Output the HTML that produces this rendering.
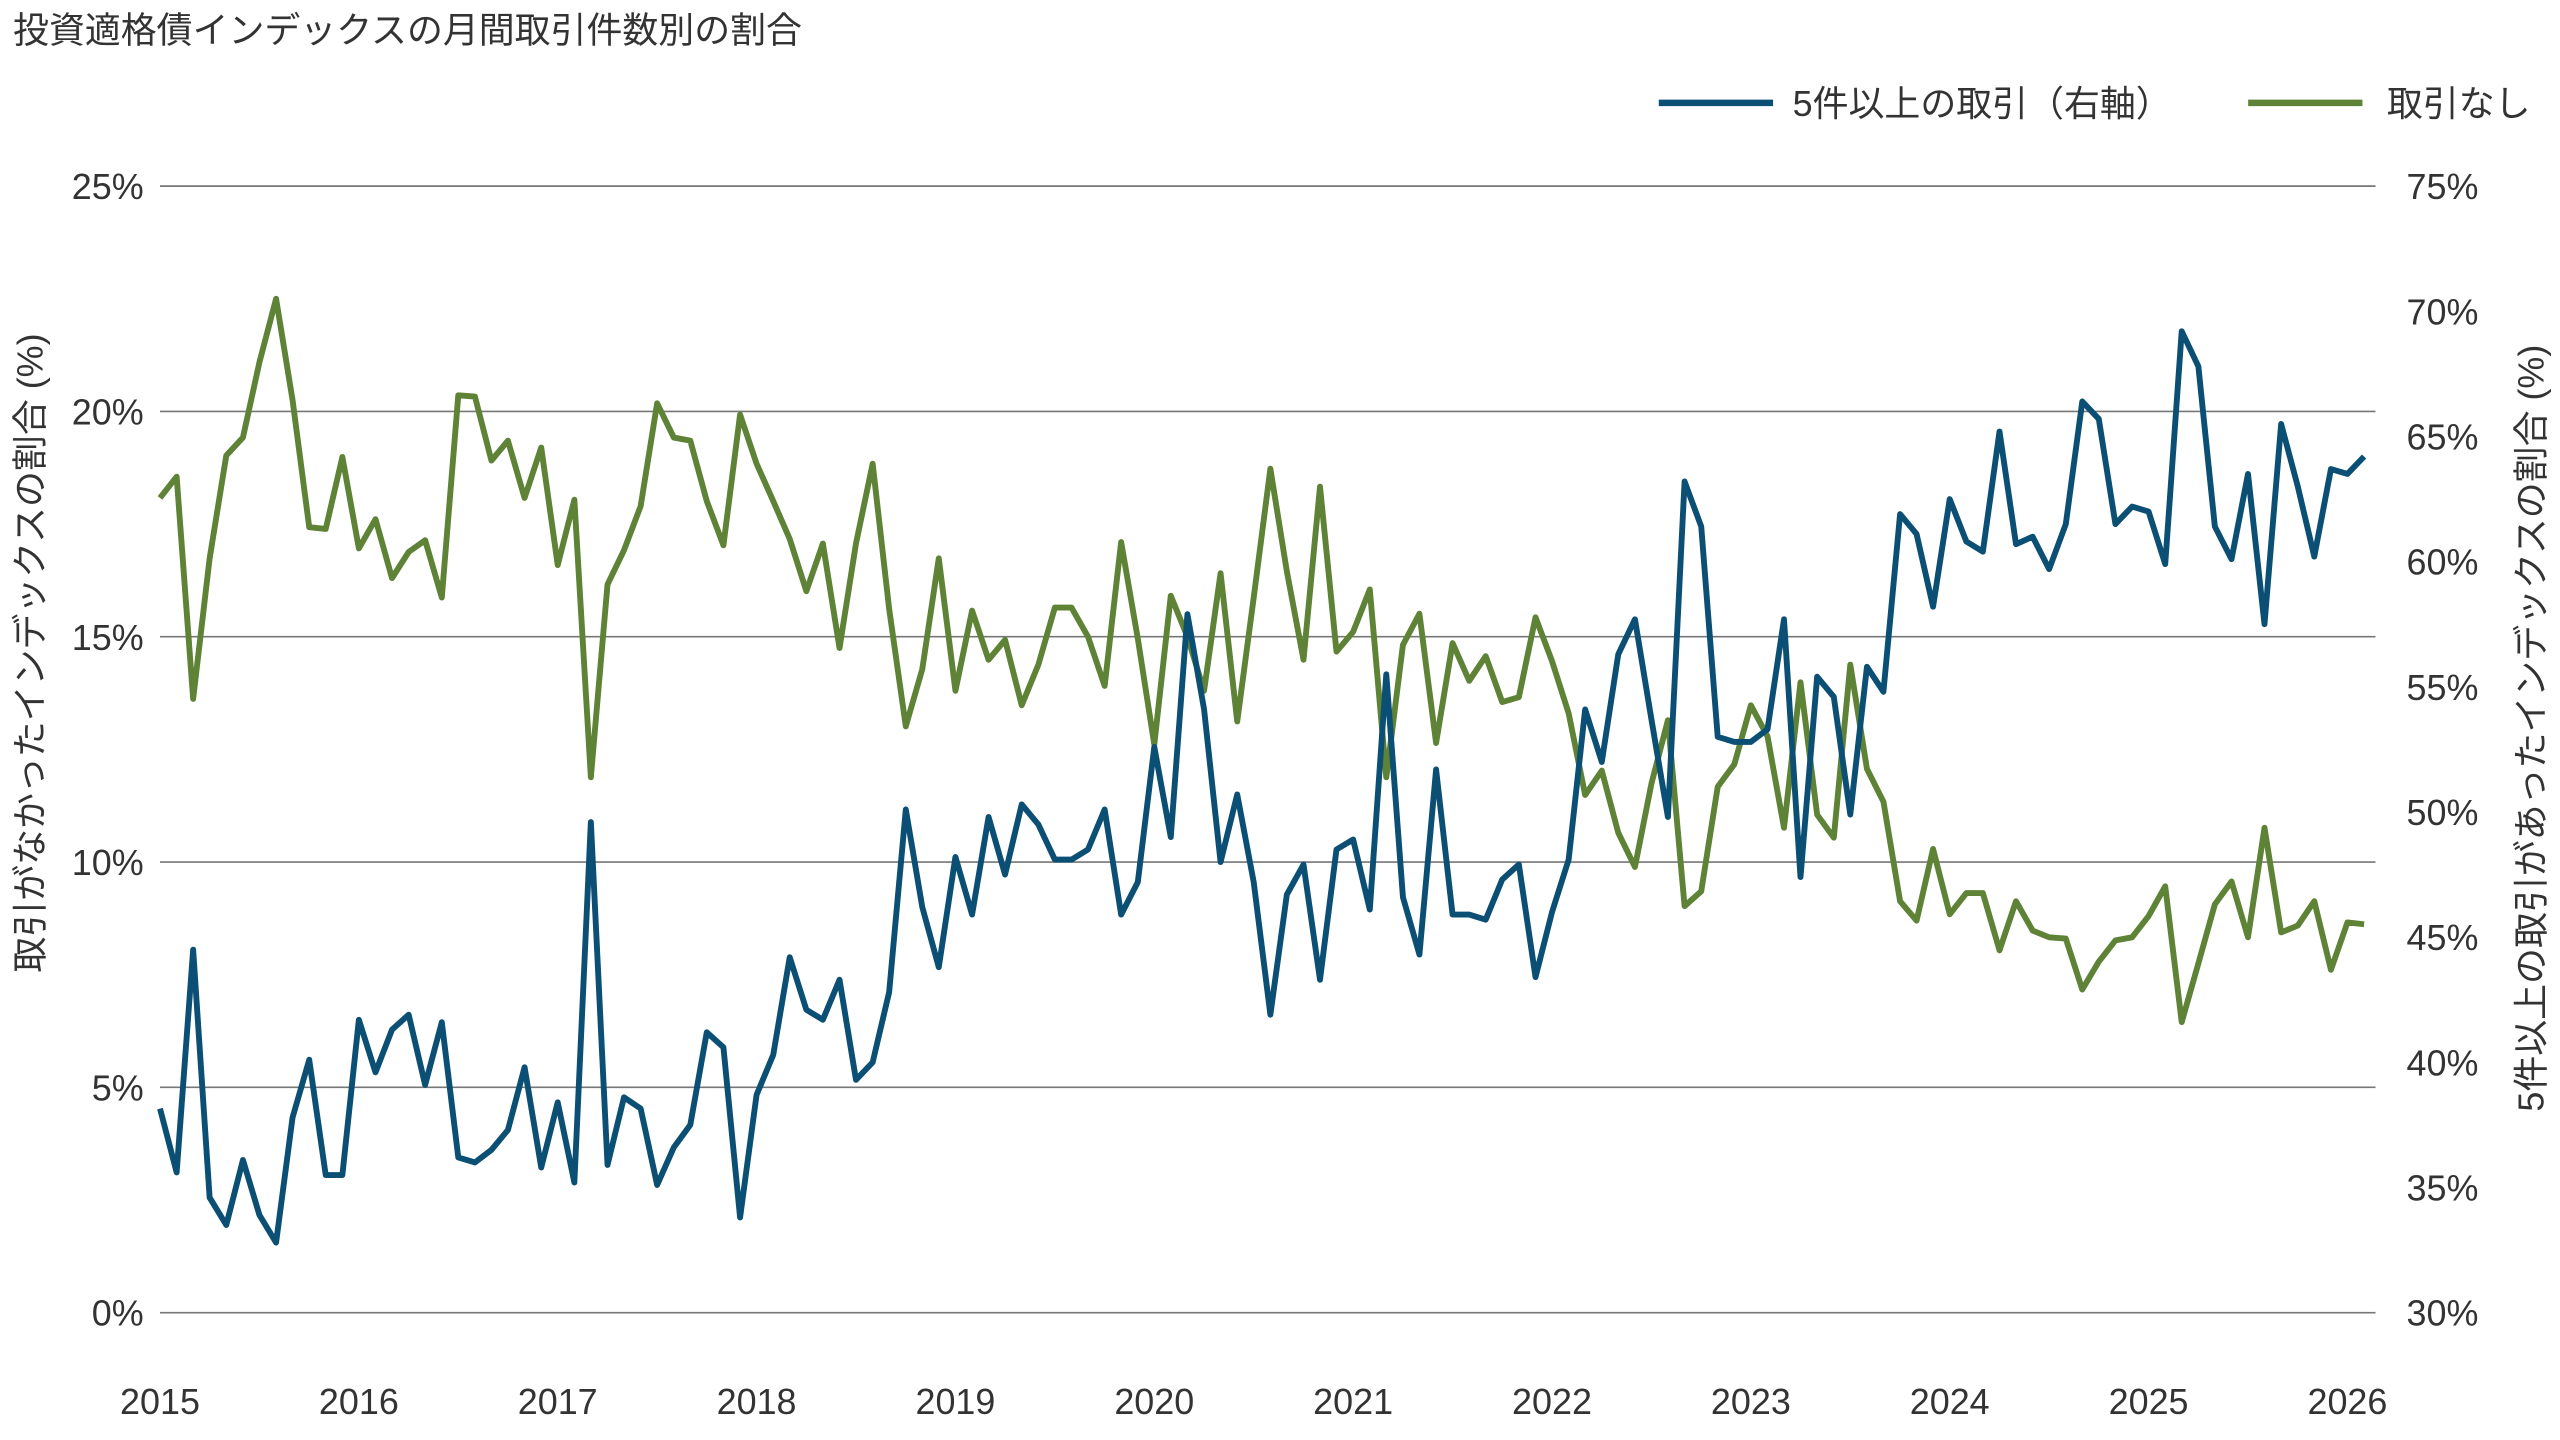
<!DOCTYPE html>
<html lang="ja">
<head>
<meta charset="utf-8">
<style>
  html,body{margin:0;padding:0;background:#fff;}
  svg{display:block;}
  text{font-family:"Liberation Sans","Noto Sans CJK JP",sans-serif;fill:#333;}
</style>
</head>
<body>
<svg id="chart" width="2560" height="1440" viewBox="0 0 1568 882" xmlns="http://www.w3.org/2000/svg">
  <text x="8" y="26" font-size="22">投資適格債インデックスの月間取引件数別の割合</text>
  <g>
    <g>
      <line x1="1016" y1="63" x2="1086" y2="63" stroke="#0b4f75" stroke-width="4"/>
      <text x="1098" y="71" font-size="22">5件以上の取引（右軸）</text>
    </g>
    <g>
      <line x1="1377" y1="63" x2="1447" y2="63" stroke="#5e8236" stroke-width="4"/>
      <text x="1462" y="71" font-size="22">取引なし</text>
    </g>
  </g>
  <g id="grid"></g>
  <g id="leftTicks"></g>
  <g id="rightTicks"></g>
  <g id="xTicks"></g>
  <text transform="translate(26,400) rotate(-90)" text-anchor="middle" font-size="22">取引がなかったインデックスの割合 (%)</text>
  <text transform="translate(1558,446) rotate(-90)" text-anchor="middle" font-size="22">5件以上の取引があったインデックスの割合 (%)</text>
  <g id="series"></g>
</svg>
<script>
const years = [2015,2016,2017,2018,2019,2020,2021,2022,2023,2024,2025,2026];
const leftTickValues = [0,5,10,15,20,25];
const leftTickLabels = ["0%","5%","10%","15%","20%","25%"];
const rightTickValues = [30,35,40,45,50,55,60,65,70,75];
const rightTickLabels = ["30%","35%","40%","45%","50%","55%","60%","65%","70%","75%"];
const noTrade = [18.08,18.55,13.62,16.74,19.02,19.42,21.09,22.5,20.25,17.43,17.39,18.99,16.96,17.61,16.30,16.88,17.14,15.87,20.36,20.33,18.91,19.35,18.08,19.20,16.59,18.04,11.88,16.16,16.92,17.90,20.18,19.42,19.35,18.01,17.03,19.93,18.84,18.01,17.17,16.01,17.07,14.75,17.07,18.84,15.62,13.01,14.28,16.74,13.80,15.58,14.49,14.93,13.48,14.38,15.65,15.65,15.0,13.91,17.10,14.96,12.61,15.91,15.0,13.80,16.41,13.12,15.87,18.73,16.45,14.49,18.33,14.67,15.11,16.05,11.88,14.82,15.51,12.64,14.86,14.02,14.57,13.55,13.66,15.43,14.46,13.30,11.49,12.03,10.65,9.89,11.74,13.15,9.02,9.35,11.67,12.17,13.48,12.79,10.76,13.99,11.05,10.54,14.38,12.07,11.34,9.13,8.70,10.29,8.84,9.31,9.31,8.04,9.13,8.48,8.33,8.30,7.17,7.79,8.26,8.33,8.80,9.46,6.45,7.75,9.06,9.57,8.33,10.76,8.44,8.59,9.13,7.61,8.66,8.62];
const fivePlus = [38.15,35.6,44.5,34.6,33.5,36.1,33.9,32.8,37.8,40.1,35.5,35.5,41.7,39.6,41.3,41.9,39.1,41.6,36.2,36.0,36.5,37.3,39.8,35.8,38.4,35.2,49.6,35.9,38.6,38.15,35.1,36.6,37.5,41.2,40.6,33.8,38.7,40.3,44.2,42.1,41.7,43.3,39.3,40.0,42.8,50.1,46.2,43.8,48.2,45.9,49.8,47.5,50.3,49.5,48.1,48.1,48.5,50.1,45.9,47.2,52.6,49.0,57.9,54.1,48.0,50.7,47.2,41.9,46.7,47.9,43.3,48.5,48.9,46.1,55.5,46.6,44.3,51.7,45.9,45.9,45.7,47.3,47.9,43.4,46.0,48.1,54.1,52.0,56.3,57.7,53.7,49.8,63.2,61.4,53.0,52.8,52.8,53.3,57.7,47.4,55.4,54.6,49.9,55.8,54.8,61.9,61.1,58.2,62.5,60.8,60.4,65.2,60.7,61.0,59.7,61.5,66.4,65.7,61.5,62.2,62.0,59.9,69.2,67.8,61.4,60.1,63.5,57.5,65.5,63.0,60.2,63.7,63.5,64.2];

const NS = "http://www.w3.org/2000/svg";
const X0 = 98, X1 = 1455, PX_PER_MONTH = 10.15;
const xMonth = m => X0 + m * PX_PER_MONTH;
const yLeft = v => 804 - (v / 25) * 690;
const yRight = v => 804 - ((v - 30) / 45) * 690;

function mk(tag, attrs, parent){
  const e = document.createElementNS(NS, tag);
  for (const k in attrs) e.setAttribute(k, attrs[k]);
  parent.appendChild(e);
  return e;
}
const grid = document.getElementById('grid');
const lt = document.getElementById('leftTicks');
const rt = document.getElementById('rightTicks');
const xt = document.getElementById('xTicks');
const series = document.getElementById('series');

leftTickValues.forEach((v,i)=>{
  const y = yLeft(v);
  const l = mk('line',{x1:X0,x2:X1,y1:y,y2:y,stroke:'#777','stroke-width':1},grid);
  
  
  const t = mk('text',{x:88,y:y+8,'text-anchor':'end','font-size':22},lt);
  t.textContent = leftTickLabels[i];
  
  
});
rightTickValues.forEach((v,i)=>{
  const t = mk('text',{x:1474,y:yRight(v)+8,'font-size':22},rt);
  t.textContent = rightTickLabels[i];
  
  
});
years.forEach((yr,i)=>{
  const t = mk('text',{x:xMonth(i*12),y:866,'text-anchor':'middle','font-size':22},xt);
  t.textContent = String(yr);
  
  
});

const gPts = noTrade.map((v,i)=>xMonth(i).toFixed(1)+','+yLeft(v).toFixed(1)).join(' ');
const gLine = mk('polyline',{points:gPts,fill:'none',stroke:'#5e8236','stroke-width':3.6,'stroke-linejoin':'round'},series);



const bPts = fivePlus.map((v,i)=>xMonth(i).toFixed(1)+','+yRight(v).toFixed(1)).join(' ');
const bLine = mk('polyline',{points:bPts,fill:'none',stroke:'#0b4f75','stroke-width':3.6,'stroke-linejoin':'round'},series);


</script>
</body>
</html>
